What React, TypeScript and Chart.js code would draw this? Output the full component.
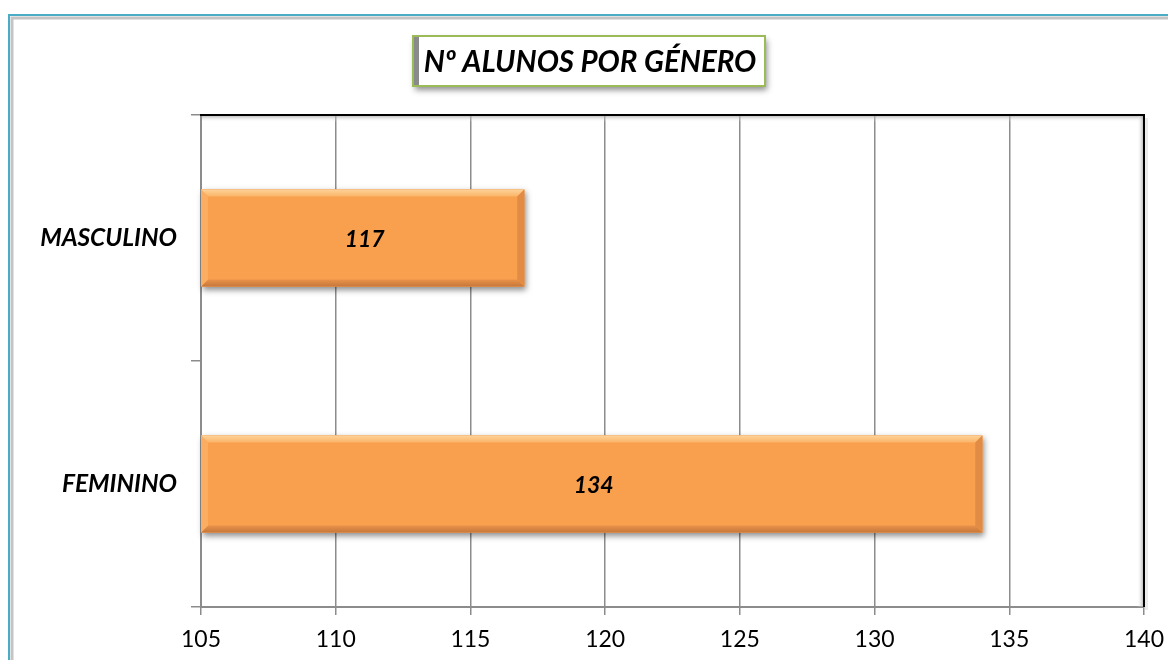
import React, { useEffect, useRef } from "react";
import { Chart, registerables } from "chart.js";

Chart.register(...registerables);

const TITLE = "Nº ALUNOS POR GÉNERO";
const categories = ["MASCULINO", "FEMININO"];
const values = [117, 134];
const X_MIN = 105;
const X_MAX = 140;
const X_STEP = 5;

const FONT = "Lato, 'Open Sans', 'Noto Sans', sans-serif";

function barRect(chart: any, bar: any) {
  const a = chart.chartArea;
  const p = bar.getProps(["x", "y", "base", "height"], true);
  const x0 = Math.max(a.left, Math.min(p.base, p.x));
  const x1 = Math.min(a.right, Math.max(p.base, p.x));
  return { x0, x1, y0: p.y - p.height / 2, y1: p.y + p.height / 2, yc: p.y };
}

const framePlugin = {
  id: "frame",
  beforeDraw(chart: any) {
    const ctx = chart.ctx;
    ctx.save();
    ctx.fillStyle = "#ffffff";
    ctx.fillRect(0, 0, chart.width, chart.height);
    ctx.strokeStyle = "#c4c4c4";
    ctx.lineWidth = 3;
    ctx.beginPath();
    ctx.moveTo(12, 700);
    ctx.lineTo(12, 18);
    ctx.lineTo(1200, 18);
    ctx.stroke();
    ctx.strokeStyle = "#4bacc6";
    ctx.lineWidth = 2;
    ctx.beginPath();
    ctx.moveTo(9, 700);
    ctx.lineTo(9, 15);
    ctx.lineTo(1200, 15);
    ctx.stroke();

    const bx = 413, by = 36, bw = 352, bh = 50;
    ctx.save();
    ctx.shadowColor = "rgba(0,0,0,0.45)";
    ctx.shadowBlur = 6;
    ctx.shadowOffsetX = 2;
    ctx.shadowOffsetY = 4;
    ctx.fillStyle = "#ffffff";
    ctx.fillRect(bx, by, bw, bh);
    ctx.restore();
    ctx.fillStyle = "#8a8a8a";
    ctx.fillRect(bx + 1, by + 1, 5, bh - 2);
    ctx.strokeStyle = "#9bbb59";
    ctx.lineWidth = 2;
    ctx.strokeRect(bx, by, bw, bh);
    ctx.fillStyle = "#000000";
    ctx.font = `italic bold 29.5px ${FONT}`;
    ctx.textAlign = "center";
    ctx.textBaseline = "middle";
    ctx.fillText(TITLE, bx + bw / 2 + 1, by + bh / 2 + 1);
    ctx.restore();
  },
  beforeDatasetsDraw(chart: any) {
    const ctx = chart.ctx;
    const a = chart.chartArea;
    ctx.save();
    let g = ctx.createLinearGradient(0, a.top, 0, a.top + 7);
    g.addColorStop(0, "rgba(150,150,150,0.8)");
    g.addColorStop(1, "rgba(255,255,255,0)");
    ctx.fillStyle = g;
    ctx.fillRect(a.left + 1, a.top, a.right - a.left - 2, 7);
    g = ctx.createLinearGradient(a.right, 0, a.right - 7, 0);
    g.addColorStop(0, "rgba(150,150,150,0.8)");
    g.addColorStop(1, "rgba(255,255,255,0)");
    ctx.fillStyle = g;
    ctx.fillRect(a.right - 7, a.top, 7, a.bottom - a.top);
    ctx.strokeStyle = "#000000";
    ctx.lineWidth = 2;
    ctx.beginPath();
    ctx.moveTo(a.left - 1, a.top);
    ctx.lineTo(a.right, a.top);
    ctx.lineTo(a.right, a.bottom);
    ctx.stroke();
    ctx.fillStyle = "rgba(0,0,0,0.08)";
    ctx.fillRect(a.right + 1, a.top + 3, 3, a.bottom - a.top);
    ctx.restore();

    const meta = chart.getDatasetMeta(0);
    ctx.save();
    meta.data.forEach((bar: any) => {
      const r = barRect(chart, bar);
      ctx.shadowColor = "rgba(0,0,0,0.45)";
      ctx.shadowBlur = 6;
      ctx.shadowOffsetX = 2;
      ctx.shadowOffsetY = 3;
      ctx.fillStyle = "#f9a04e";
      ctx.fillRect(r.x0, r.y0, r.x1 - r.x0, r.y1 - r.y0);
    });
    ctx.restore();
  },
  afterDatasetsDraw(chart: any) {
    const ctx = chart.ctx;
    const meta = chart.getDatasetMeta(0);
    ctx.save();
    meta.data.forEach((bar: any, i: number) => {
      const { x0, x1, y0, y1, yc } = barRect(chart, bar);
      const b = 7;
      const poly = (pts: number[][], c: any) => {
        ctx.beginPath();
        ctx.moveTo(pts[0][0], pts[0][1]);
        for (let k = 1; k < pts.length; k++) ctx.lineTo(pts[k][0], pts[k][1]);
        ctx.closePath();
        ctx.fillStyle = c;
        ctx.fill();
      };
      let g = ctx.createLinearGradient(0, y0, 0, y0 + b);
      g.addColorStop(0, "#fdd39b");
      g.addColorStop(1, "#fbb468");
      poly([[x0, y0], [x1, y0], [x1 - b, y0 + b], [x0 + b, y0 + b]], g);
      g = ctx.createLinearGradient(0, y1 - b, 0, y1);
      g.addColorStop(0, "#e8924a");
      g.addColorStop(1, "#c6773a");
      poly([[x0, y1], [x1, y1], [x1 - b, y1 - b], [x0 + b, y1 - b]], g);
      poly([[x0, y0], [x0 + b, y0 + b], [x0 + b, y1 - b], [x0, y1]], "#fbae62");
      poly([[x1, y0], [x1 - b, y0 + b], [x1 - b, y1 - b], [x1, y1]], "#e18b44");
      ctx.fillStyle = "#000000";
      ctx.font = `italic bold 23px ${FONT}`;
      ctx.textAlign = "center";
      ctx.textBaseline = "middle";
      ctx.fillText(String(values[i]), (x0 + x1) / 2 + 2, yc + 2);
    });
    ctx.restore();
  },
};

export default function App() {
  const ref = useRef<HTMLCanvasElement | null>(null);
  useEffect(() => {
    if (!ref.current) return;
    const chart = new Chart(ref.current, {
      type: "bar",
      data: {
        labels: categories,
        datasets: [
          {
            data: values,
            backgroundColor: "#f9a04e",
            borderWidth: 0,
            barPercentage: 0.395,
            categoryPercentage: 1,
          },
        ],
      },
      options: {
        indexAxis: "y",
        animation: false,
        responsive: false,
        maintainAspectRatio: false,
        layout: { padding: { top: 115, right: 24, left: 0, bottom: 0 } },
        plugins: { legend: { display: false }, tooltip: { enabled: false }, title: { display: false } },
        scales: {
          x: {
            min: X_MIN,
            max: X_MAX,
            ticks: {
              stepSize: X_STEP,
              color: "#000000",
              font: { family: FONT, size: 23 },
              padding: 11,
              maxRotation: 0,
            },
            grid: { color: "#8c8c8c", lineWidth: 1.5, tickLength: 8, tickColor: "#8c8c8c" },
            border: { color: "#8c8c8c", width: 2 },
            afterFit(scale: any) {
              scale.height = 53;
              scale.paddingLeft = 0;
              scale.paddingRight = 0;
            },
          },
          y: {
            ticks: {
              color: "#000000",
              font: { family: FONT, size: 24.5, style: "italic", weight: "bold" },
              padding: 14,
            },
            grid: { offset: true, drawOnChartArea: false, tickLength: 10, color: "#8c8c8c", lineWidth: 1.5 },
            border: { color: "#8c8c8c", width: 2 },
            afterFit(scale: any) {
              scale.width = 201;
              scale.paddingTop = 0;
              scale.paddingBottom = 0;
            },
          },
        },
      },
      plugins: [framePlugin],
    });
    return () => chart.destroy();
  }, []);
  return (
    <div style={{ position: "absolute", left: 0, top: 0, width: 1168, height: 660 }}>
      <canvas ref={ref} width={1168} height={660} style={{ display: "block" }} />
    </div>
  );
}
